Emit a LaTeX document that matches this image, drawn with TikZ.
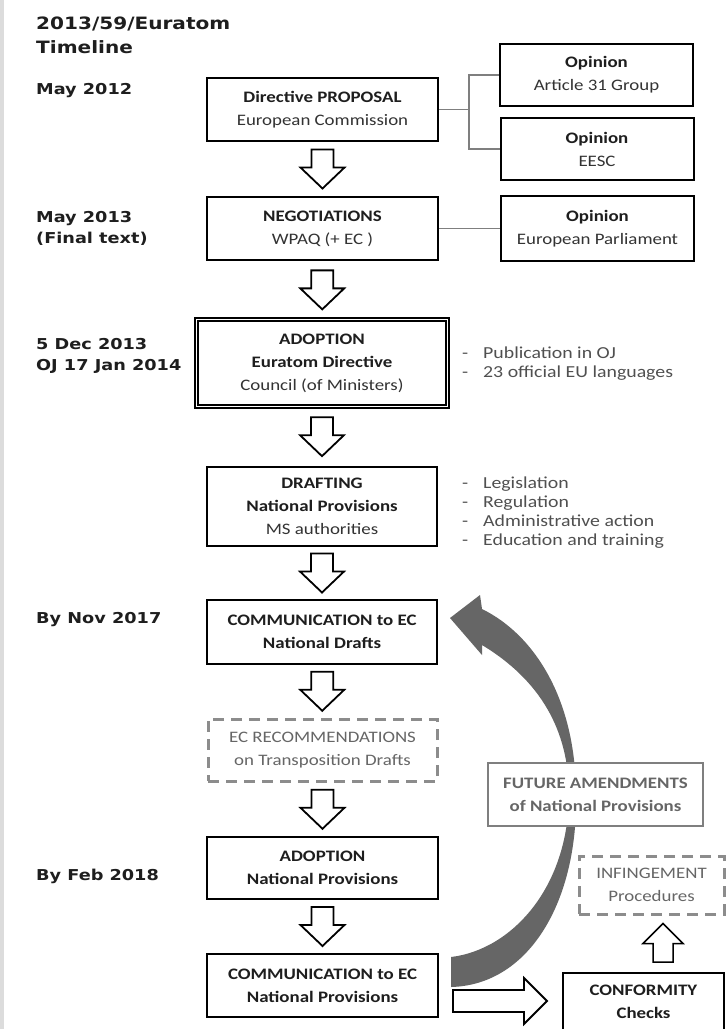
\documentclass[tikz,border=0pt]{standalone}
\usepackage{fontspec}
\usetikzlibrary{calc}

\newfontfamily\boxfont[FakeStretch=1.18]{Carlito}
\newfontfamily\datefont[FakeStretch=1.18]{DejaVu Sans}

\definecolor{inkblack}{HTML}{1E1E1E}
\definecolor{txtgray}{HTML}{333333}
\definecolor{notegray}{HTML}{505050}
\definecolor{fadegray}{HTML}{666666}
\definecolor{dashgray}{HTML}{8C8C8C}
\definecolor{linkgray}{HTML}{7F7F7F}
\definecolor{arrowgray}{HTML}{666666}
\definecolor{stripgray}{HTML}{DCDCDC}

\begin{document}
\begin{tikzpicture}[x=1pt, y=-1pt,
    stage/.style={draw=black, line width=2pt, fill=white, align=center,
        inner sep=0pt, text=inkblack, font=\boxfont\fontsize{16}{23}\selectfont},
    opinion/.style={stage, minimum width=193pt, minimum height=62pt},
    draftbox/.style={stage, draw=dashgray, line width=3pt,
        dash pattern=on 11pt off 7pt, text=fadegray},
    datelabel/.style={anchor=west, align=left, inner sep=0pt, text=inkblack,
        font=\datefont\bfseries\fontsize{15}{21}\selectfont},
    notes/.style={anchor=west, align=left, inner sep=0pt, text=notegray,
        font=\boxfont\fontsize{16.8}{19}\selectfont},
    link/.style={draw=linkgray, line width=1.8pt},
    blockarrow/.style={draw=black, line width=1.8pt, fill=white, line join=miter},
    bigarrow/.style={fill=arrowgray}
]

        % Frame
        \path[use as bounding box] (0,0) rectangle (728,1029);
        \clip (0,0) rectangle (728,1029);
        \fill[white] (0,0) rectangle (728,1029);
        \fill[stripgray] (0,0) rectangle (4,1029);

        % Dates
        \node[datelabel, font=\datefont\bfseries\fontsize{17}{24}\selectfont] (title) at (36,35) {2013/59/Euratom\\Timeline};
        \node[datelabel] (d2012) at (36,91) {May 2012};
        \node[datelabel] (d2013) at (36,228.5) {May 2013\\(Final text)};
        \node[datelabel] (ddec) at (36,355.5) {5 Dec 2013\\OJ 17 Jan 2014};
        \node[datelabel] (dnov) at (36,620) {By Nov 2017};
        \node[datelabel] (dfeb) at (36,876) {By Feb 2018};

        % Main stages
        \node[stage, minimum width=231pt, minimum height=63pt] (prop) at (322.5,109.5)
            {\textbf{Directive PROPOSAL}\\\textcolor{txtgray}{European Commission}};
        \node[stage, minimum width=231pt, minimum height=63pt] (nego) at (322.5,228.5)
            {\textbf{NEGOTIATIONS}\\\textcolor{txtgray}{WPAQ (+ EC )}};
        \node[stage, line width=1.6pt, double, double distance=1.8pt,
            minimum width=251pt, minimum height=87pt] (adopt) at (322,363)
            {\textbf{ADOPTION}\\\textbf{Euratom Directive}\\\textcolor{txtgray}{Council (of Ministers)}};
        \node[stage, minimum width=230pt, minimum height=79pt] (draft) at (322,506.5)
            {\textbf{DRAFTING}\\\textbf{National Provisions}\\\textcolor{txtgray}{MS authorities}};
        \node[stage, minimum width=230pt, minimum height=64pt] (commd) at (322,632)
            {\textbf{COMMUNICATION to EC}\\\textbf{National Drafts}};
        \node[draftbox, minimum width=229pt, minimum height=62pt] (recom) at (322.5,750)
            {EC RECOMMENDATIONS\\on Transposition Drafts};
        \node[stage, minimum width=231pt, minimum height=62pt] (adoptn) at (322.5,868)
            {\textbf{ADOPTION}\\\textbf{National Provisions}};
        \node[stage, minimum width=231pt, minimum height=63pt] (commn) at (322.5,985.5)
            {\textbf{COMMUNICATION to EC}\\\textbf{National Provisions}};

        % Opinions
        \node[opinion] (op31) at (596.5,75)
            {\textbf{Opinion}\\\textcolor{txtgray}{Article 31 Group}};
        \node[opinion] (opeesc) at (597,149)
            {\textbf{Opinion}\\\textcolor{txtgray}{EESC}};
        \node[opinion, minimum height=65pt] (opep) at (597.5,228.5)
            {\textbf{Opinion}\\\textcolor{txtgray}{European Parliament}};

        % Side notes
        \node[notes] (pubnotes) at (462,363.5)
            {\makebox[21pt][l]{-}Publication in OJ\\\makebox[21pt][l]{-}23 official EU languages};
        \node[notes] (formnotes) at (462,512.5)
            {\makebox[21pt][l]{-}Legislation\\\makebox[21pt][l]{-}Regulation\\\makebox[21pt][l]{-}Administrative action\\\makebox[21pt][l]{-}Education and training};

        % Links to opinions
        \coordinate (fork) at ($(prop.east)+(30,0)$);
        \draw[link] (prop.east) -- (fork);
        \draw[link] (op31.west) -| (fork) |- (opeesc.west);
        \draw[link] (nego.east) -- (opep.west);

        % Block arrows down the timeline
        \foreach \a/\b in {prop/nego, nego/adopt, adopt/draft, draft/commd, commd/recom, recom/adoptn, adoptn/commn} {
            \coordinate (m) at ($(\a.south)!0.5!(\b.north)$);
            \draw[blockarrow] (m) ++(-11,-19.5) -- ++(22,0) -- ++(0,18) -- ++(11,0)
                -- ++(-22,21) -- ++(-22,-21) -- ++(11,0) -- cycle;
        }

        % Feedback arrow
        \fill[bigarrow] ($(commn.east)+(12,-28.5)$)
            .. controls (510,950) and (568,890) .. (569,795)
            .. controls (569,730) and (540,680) .. (482,645)
            -- (482,655) -- ($(commd.east)+(12,-14)$) -- (480,595) -- (482,609)
            .. controls (535,635) and (576,700) .. (576,795)
            .. controls (578,900) and (530,985) .. ($(commn.east)+(12,1.5)$)
            -- cycle;

        % Checks
        \node[stage, draw=linkgray, text=fadegray, font=\boxfont\bfseries\fontsize{16}{23}\selectfont,
            minimum width=215pt, minimum height=63pt] (future) at (595.5,794.5)
            {FUTURE AMENDMENTS\\of National Provisions};
        \node[draftbox, minimum width=145pt, minimum height=58pt] (infring) at (651.5,885)
            {INFINGEMENT\\Procedures};
        \node[stage, minimum width=161pt, minimum height=58pt] (conform) at (643.5,1002)
            {\textbf{CONFORMITY}\\\textbf{Checks}};

        % Arrow to checks
        \coordinate (rs) at ($(commn.east)+(14,15.5)$);
        \coordinate (rt) at ($(conform.west)+(-15,-1)$);
        \draw[blockarrow] ($(rs)+(0,-11)$) -- ($(rt)+(-23,-11)$) -- ($(rt)+(-23,-23)$) -- (rt)
            -- ($(rt)+(-23,23)$) -- ($(rt)+(-23,11)$) -- ($(rs)+(0,11)$) -- cycle;

        % Arrow to infringement
        \coordinate (us) at ($(conform.north)+(19.5,-10)$);
        \coordinate (ut) at ($(infring.south)+(11.5,8)$);
        \draw[blockarrow, line width=1.5pt] ($(us)+(-10,0)$) -- ($(ut)+(-10,20)$) -- ($(ut)+(-20,20)$) -- (ut)
            -- ($(ut)+(20,20)$) -- ($(ut)+(10,20)$) -- ($(us)+(10,0)$) -- cycle;

    \end{tikzpicture}
\end{document}
